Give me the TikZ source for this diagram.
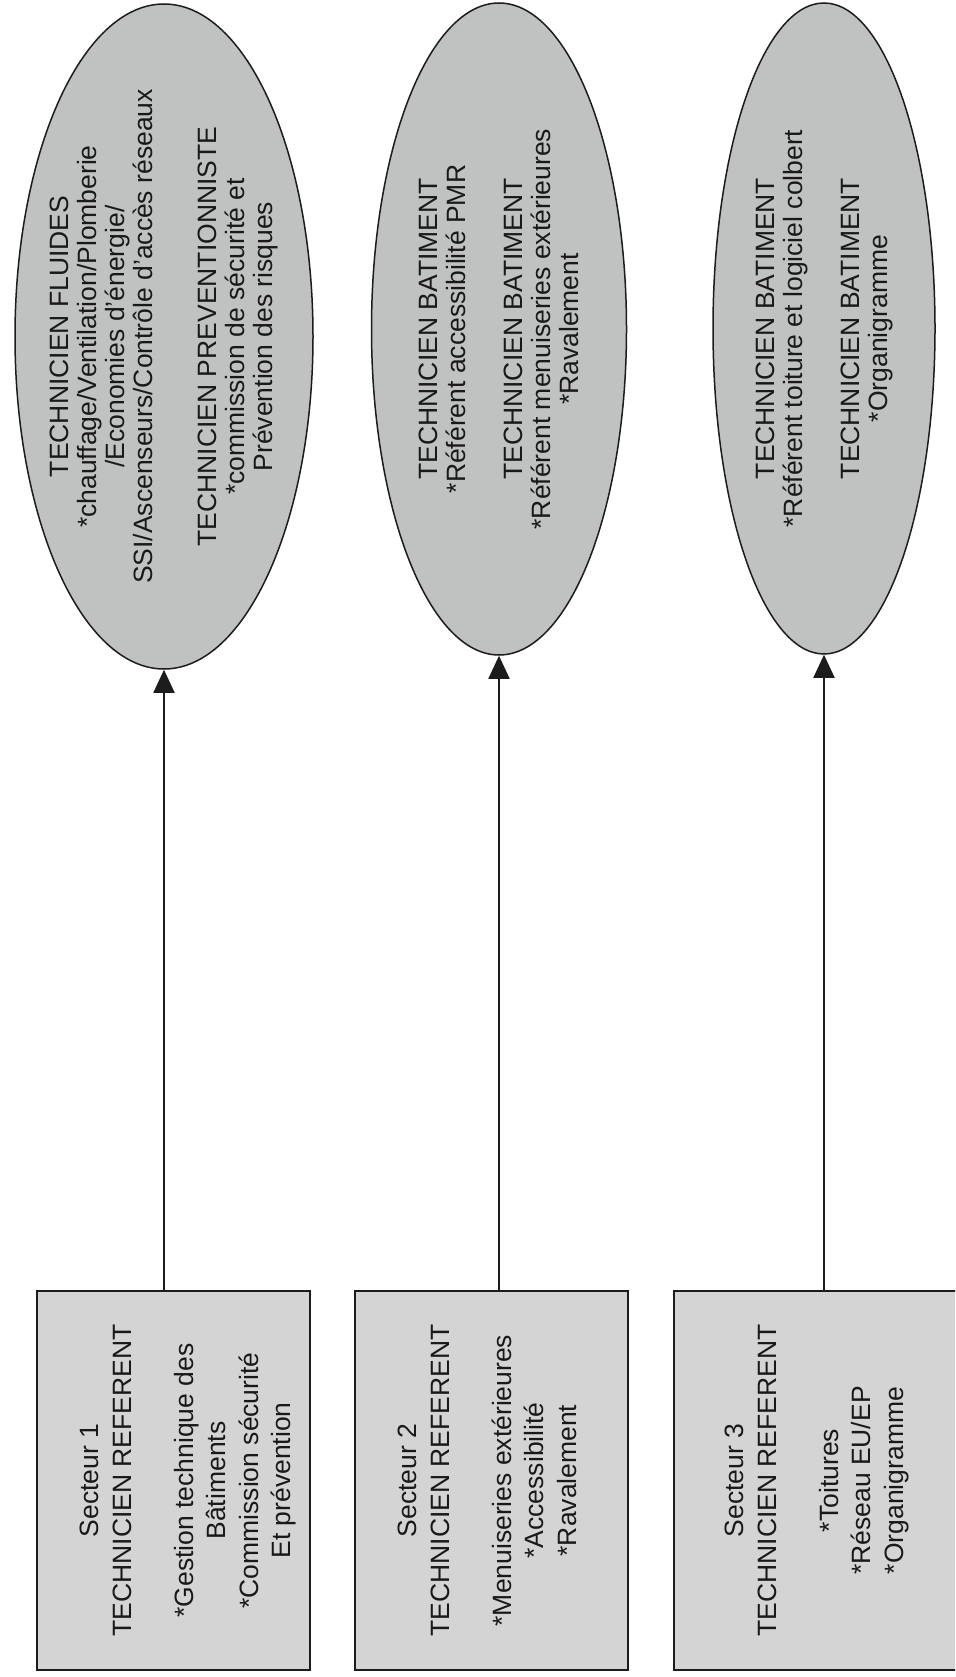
\documentclass[tikz,border=0pt]{standalone}
\usepackage{fontspec}
\setmainfont{Liberation Sans}
\usetikzlibrary{shapes.geometric,arrows.meta}
\definecolor{boxfill}{RGB}{212,212,212}
\definecolor{ellfill}{RGB}{191,194,192}
\definecolor{linecol}{RGB}{28,28,28}
\definecolor{txtcol}{RGB}{25,25,25}
\begin{document}
\begin{tikzpicture}[x=1pt,y=-1pt,
  boxs/.style={draw=linecol, line width=1.8pt, fill=boxfill, rectangle, inner sep=0pt},
  ells/.style={draw=linecol, line width=1.5pt, fill=ellfill, ellipse, inner sep=0pt},
  btext/.style={rotate=90, align=center, inner sep=0pt, text=txtcol,
     font=\fontsize{26.5}{32.5}\selectfont, anchor=north},
  etext/.style={rotate=90, align=center, inner sep=0pt, text=txtcol,
     font=\fontsize{26.5}{28}\selectfont},
  conn/.style={draw=linecol, line width=1.8pt, -{Triangle[width=21pt,length=23pt]}}
]
\useasboundingbox (0,0) rectangle (955,1677);
\clip (0,0) rectangle (955,1677);
\fill[white] (0,0) rectangle (955,1677);

% ellipses
\node[ells, minimum width=298pt, minimum height=665pt] (e1) at (164,336.5) {};
\node[ells, minimum width=255pt, minimum height=652pt] (e2) at (499,329) {};
\node[ells, minimum width=222pt, minimum height=651pt] (e3) at (824,328.5) {};

\node[etext] (e1t) at (e1.center) {TECHNICIEN FLUIDES\\
*chauffage/Ventilation/Plomberie\\
/Economies d’énergie/\\
SSI/Ascenseurs/Contrôle d’accès réseaux\\[36pt]
TECHNICIEN PREVENTIONNISTE\\
*commission de sécurité et\\
Prévention des risques};

\node[etext] (e2t) at (e2.center) {TECHNICIEN BATIMENT\\
*Référent accessibilité PMR\\[29pt]
TECHNICIEN BATIMENT\\
*Référent menuiseries extérieures\\
*Ravalement};

\node[etext] (e3t) at (e3.center) {TECHNICIEN BATIMENT\\
*Référent toiture et logiciel colbert\\[29pt]
TECHNICIEN BATIMENT\\
*Organigramme};

% boxes
\node[boxs, minimum width=273pt, minimum height=379pt] (b1) at (173.5,1480.5) {};
\node[boxs, minimum width=273pt, minimum height=379pt] (b2) at (491.5,1480.5) {};
\node[boxs, minimum width=306pt, minimum height=379pt] (b3) at (827,1480.5) {};

\node[btext] (b1t) at ([xshift=44pt]b1.west) {Secteur 1\\
TECHNICIEN REFERENT\\[29.5pt]
*Gestion technique des\\
Bâtiments\\
*Commission sécurité\\
Et prévention};

\node[btext] (b2t) at ([xshift=44pt]b2.west) {Secteur 2\\
TECHNICIEN REFERENT\\[29.5pt]
*Menuiseries extérieures\\
*Accessibilité\\
*Ravalement};

\node[btext] (b3t) at ([xshift=52pt]b3.west) {Secteur 3\\
TECHNICIEN REFERENT\\[29.5pt]
*Toitures\\
*Réseau EU/EP\\
*Organigramme};

% connectors
\draw[conn] (e1.south |- b1.north) -- (e1.south);
\draw[conn] (e2.south |- b2.north) -- (e2.south);
\draw[conn] (e3.south |- b3.north) -- (e3.south);
\end{tikzpicture}
\end{document}
